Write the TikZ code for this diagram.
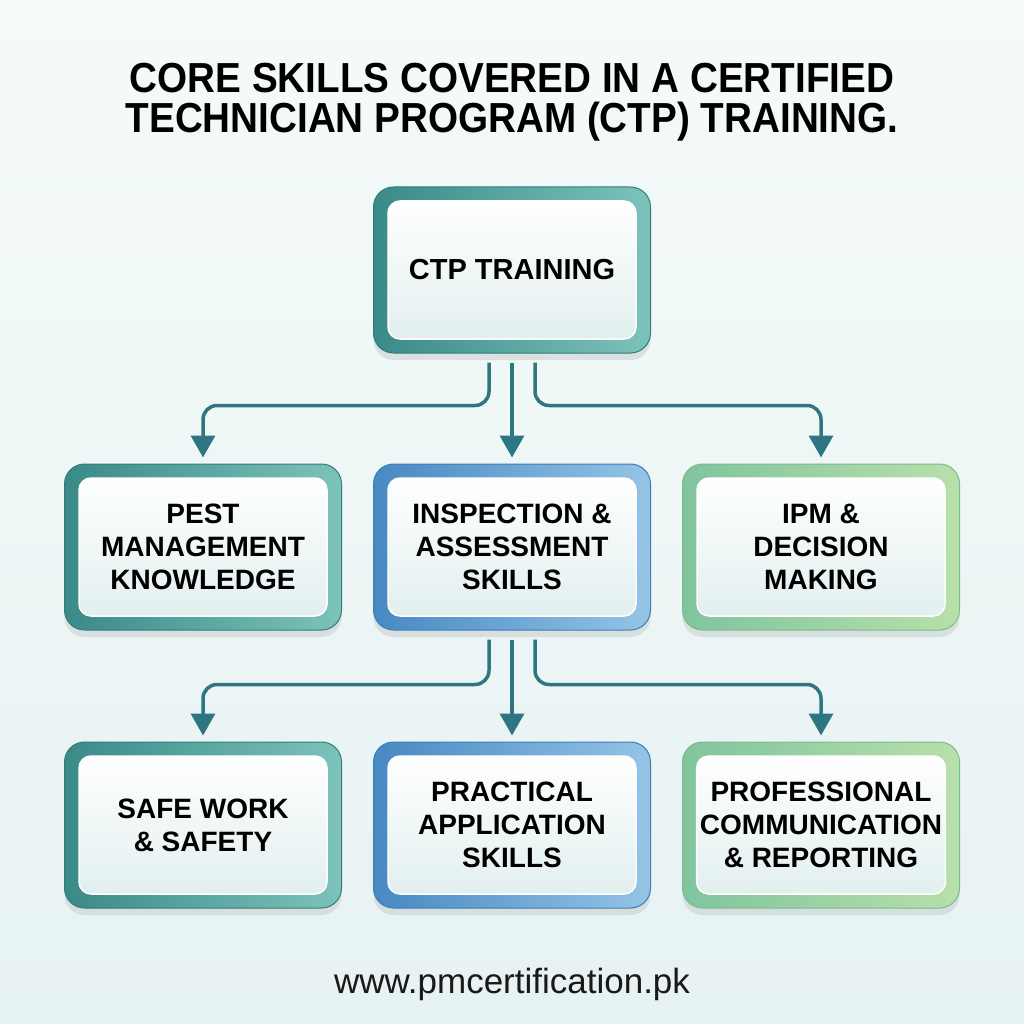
\documentclass[tikz,border=0pt]{standalone}
\usepackage{fontspec}
\setmainfont{Liberation Sans}
\newfontfamily\titlefont{Liberation Sans}[FakeStretch=0.92]
\usepackage{tikz}
\usetikzlibrary{positioning, shadows, arrows.meta}
\definecolor{bgtop}{HTML}{F5FAFA}
\definecolor{bgbot}{HTML}{E7F2F2}
\definecolor{tealA}{HTML}{3A8A89}
\definecolor{tealB}{HTML}{7CC3BA}
\definecolor{tealC}{HTML}{327C7B}
\definecolor{blueA}{HTML}{4789C3}
\definecolor{blueB}{HTML}{95C4E6}
\definecolor{blueC}{HTML}{3D7DB4}
\definecolor{greenA}{HTML}{80C49E}
\definecolor{greenB}{HTML}{B8E0AA}
\definecolor{greenC}{HTML}{7ABB90}
\definecolor{cardc}{HTML}{E2EFEF}
\definecolor{linkc}{HTML}{2F7683}
\tikzstyle{frame} = [rounded corners=20pt, minimum width=277pt, minimum height=166pt, line width=1pt, drop shadow={shadow xshift=0pt, shadow yshift=-7pt, opacity=0.18}]
\tikzstyle{tealframe} = [frame, left color=tealA, right color=tealB, draw=tealC]
\tikzstyle{blueframe} = [frame, left color=blueA, right color=blueB, draw=blueC]
\tikzstyle{greenframe} = [frame, left color=greenA, right color=greenB, draw=greenC]
\tikzstyle{card} = [rounded corners=12pt, minimum width=248pt, minimum height=138pt, draw=white, line width=1.5pt, top color=white, bottom color=cardc, align=center, text=black, font=\fontsize{28pt}{33pt}\selectfont\bfseries]
\tikzstyle{title} = [text=black, font=\titlefont\fontsize{42pt}{40pt}\selectfont\bfseries, inner sep=0pt]
\tikzstyle{link} = [draw=linkc, line width=3.5pt, rounded corners=14pt]

\begin{document}
\begin{tikzpicture}[x=1pt, y=-1pt, node distance=309pt, >={Triangle[width=24pt, length=22pt]}]
	\fill [top color=bgtop, bottom color=bgbot] (0,0) rectangle (1024,1024);
	\useasboundingbox (0,0) rectangle (1024,1024);

	\node [title, anchor=base] (title) at (512,93) {CORE SKILLS COVERED IN A CERTIFIED};
	\node [title, anchor=base] (subtitle) at (512,133) {TECHNICIAN PROGRAM (CTP) TRAINING.};

	\node [tealframe] (ctp) at (512,270) {};
	\node [blueframe, below of=ctp, node distance=277pt] (insp) {};
	\node [tealframe, left of=insp] (pest) {};
	\node [greenframe, right of=insp] (ipm) {};
	\node [blueframe, below of=insp, node distance=278pt] (practical) {};
	\node [tealframe, left of=practical] (safe) {};
	\node [greenframe, right of=practical] (comm) {};

	\node [card, font=\fontsize{29pt}{33pt}\selectfont\bfseries] (ctpcard) at (ctp) {CTP TRAINING};
	\node [card] (pestcard) at (pest) {PEST\\MANAGEMENT\\KNOWLEDGE};
	\node [card] (inspcard) at (insp) {INSPECTION \&\\ASSESSMENT\\SKILLS};
	\node [card] (ipmcard) at (ipm) {IPM \&\\DECISION\\MAKING};
	\node [card] (safecard) at (safe) {SAFE WORK\\\& SAFETY};
	\node [card] (practicalcard) at (practical) {PRACTICAL\\APPLICATION\\SKILLS};
	\node [card] (commcard) at (comm) {PROFESSIONAL\\COMMUNICATION\\\& REPORTING};

	\draw [link, ->] ([xshift=-23pt, yshift=-9pt]ctp.south) |- ([yshift=58pt]pest.north) -- ([yshift=6pt]pest.north);
	\draw [link, ->] ([yshift=-9pt]ctp.south) -- ([yshift=6pt]insp.north);
	\draw [link, ->] ([xshift=23pt, yshift=-9pt]ctp.south) |- ([yshift=58pt]ipm.north) -- ([yshift=6pt]ipm.north);

	\draw [link, ->] ([xshift=-23pt, yshift=-9pt]insp.south) |- ([yshift=57pt]safe.north) -- ([yshift=6pt]safe.north);
	\draw [link, ->] ([yshift=-9pt]insp.south) -- ([yshift=6pt]practical.north);
	\draw [link, ->] ([xshift=23pt, yshift=-9pt]insp.south) |- ([yshift=57pt]comm.north) -- ([yshift=6pt]comm.north);

	\node [anchor=base, text=black!90, font=\fontsize{35pt}{40pt}\selectfont] (url) at (512,993) {www.pmcertification.pk};
\end{tikzpicture}
\end{document}
